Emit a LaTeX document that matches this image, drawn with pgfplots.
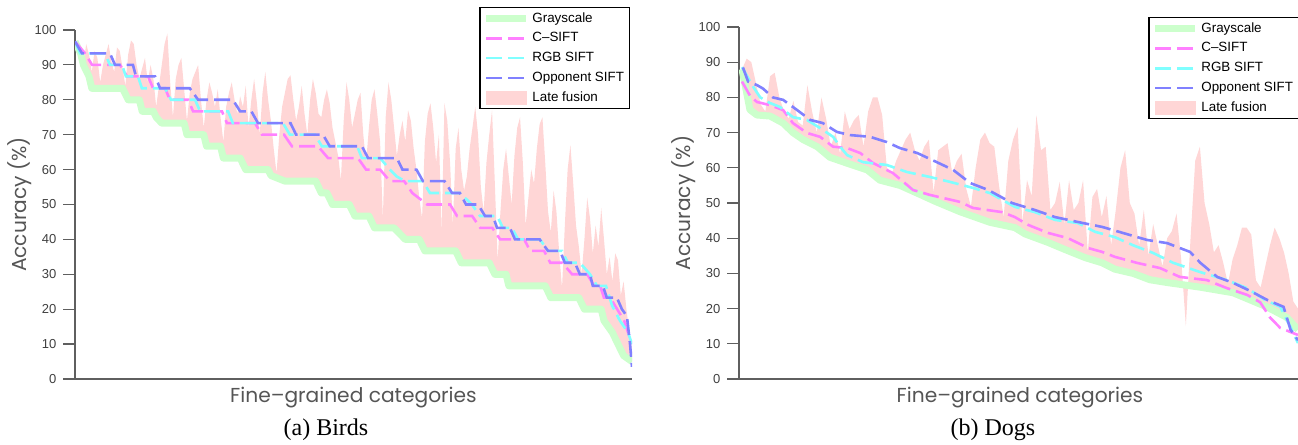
\documentclass[border=0pt]{standalone}
\usepackage{fontspec}
\setmainfont{Liberation Sans}
\newfontfamily\lserif{Liberation Serif}
\newfontfamily\gothic{Poppins}[Ligatures=TeX]
\usepackage{pgfplots}
\pgfplotsset{compat=1.18}
\usepgfplotslibrary{fillbetween}
\definecolor{cgray}{RGB}{204,255,204}
\definecolor{ccsift}{RGB}{255,128,255}
\definecolor{crgb}{RGB}{128,255,255}
\definecolor{copp}{RGB}{128,128,255}
\definecolor{clate}{RGB}{255,214,214}
\definecolor{caxis}{RGB}{95,95,95}
\definecolor{ctext}{RGB}{64,64,64}
\definecolor{clabel}{RGB}{85,85,85}
\pgfplotsset{
  lineleg/.style={legend image code/.code={\draw[##1] (0pt,0pt) -- (20pt,0pt);}},
  arealeg/.style={legend image code/.code={\fill[clate] (0pt,-3.2pt) rectangle (20pt,3.2pt);}},
  dsh/.style={line width=1.3pt, dash pattern=on 8pt off 3pt, lineleg},
  myax/.style={
    scale only axis, set layers,
    axis x line*=bottom, axis y line*=left,
    axis line style={color=caxis, line width=0.75pt},
    ymin=0, ymax=100, ytick={0,10,...,100}, xtick=\empty,
    tick align=outside, major tick length=5.8pt,
    tick style={color=caxis, line width=0.6pt},
    /pgf/number format/assume math mode=true,
    yticklabel style={font=\fontsize{6.5}{7}\selectfont, color=ctext},
    xlabel={Fine–grained categories},
    ylabel={Accuracy (\%)},
    label style={font=\gothic\fontsize{10.1}{12}\selectfont, color=clabel},
    xlabel style={at={(axis description cs:0.5,0)}, anchor=center, yshift=-9.5pt},
    legend cell align=left,
    legend style={anchor=north east, draw=black, line width=0.6pt, fill=white,
      font=\fontsize{6.7}{8}\selectfont, inner xsep=1.5pt, inner ysep=0.8pt, row sep=0.5pt,
      nodes={inner xsep=1.2pt, inner ysep=1.4pt, text height=5pt, text depth=1.6pt}},
  },
}
\begin{document}
\begin{tikzpicture}
% ---------------- Birds ----------------
\begin{axis}[myax, at={(37.5pt,33pt)}, anchor=south west,
  width=278.5pt, height=174.5pt, xmin=1, xmax=200,
  ylabel style={at={(axis description cs:-0.0987,0.5)}, anchor=center},
  legend style={at={(0.9964,1.0659)}}]
\addplot[cgray, line width=3.5pt, line join=round, name path=grayb, lineleg] coordinates {
(1,96.7)(3,93.3)(4,90)(6,86.7)(7,83.3)(18,83.3)(20,80)(24,80)(25,76.7)(29,76.7)(30,75)(32,73.3)(40,73.3)(41,70)(47,70)(48,66.7)(53,66.7)(54,63.3)(60,63.3)(62,60)(70,60)(71,58.3)(76,56.7)(87,56.7)(89,53.3)(91,53.3)(93,50)(99,50)(101,46.7)(106,46.7)(108,43.3)(115,43.3)(119,40)(124,40)(126,36.7)(137,36.7)(139,33.3)(149,33.3)(151,30)(155,30)(156,26.7)(169,26.7)(171,23.3)(181,23.3)(183,20)(189,20)(190,16.7)(193,13.3)(195,10)(197,6.7)(200,5)};
\addlegendentry{Grayscale}
\addplot[ccsift, dsh] coordinates {
(1,96.7)(4.6,93.3)(7.1,90)(17.1,90)(19.6,86.7)(27.1,86.7)(28.9,83.3)(33.2,83.3)(34.9,80)(41.4,80)(43.2,76.7)(53.5,76.7)(55.3,73.3)(65.3,73.3)(67.8,70)(75.7,70)(78.5,66.7)(87.8,66.7)(91.4,63.3)(102.1,63.3)(105,60)(110,60)(113.5,56.7)(118.6,56.7)(121.5,53.3)(126.8,50)(135,50)(137.5,46.7)(142.9,46.7)(145.8,43.3)(150.1,43.3)(152.9,40)(161.5,40)(163.6,36.7)(168.6,36.7)(170.8,33.3)(175.1,33.3)(178.6,30)(184,30)(186.5,26.7)(188.6,26.7)(190,23.3)(192.2,23.3)(194.7,20)(197.2,16.7)(200,10)};
\addlegendentry{C--SIFT}
\addplot[crgb, dsh] coordinates {
(1,96.7)(2.8,93.3)(11.7,93.3)(13.5,90)(17.8,90)(19.2,86.7)(23.5,86.7)(24.9,83.3)(33.2,83.3)(35.3,80)(43.9,80)(45.7,76.7)(55.7,76.7)(57.4,73.3)(75.3,73.3)(77.8,70)(86.7,70)(89.2,66.7)(101.8,66.7)(103.5,63.3)(110,63.3)(113.5,60)(116,58)(118.9,56.7)(125.3,56.7)(127.8,53.3)(138.5,53.3)(142.8,50)(145.7,46.7)(151.8,46.7)(153.9,43.3)(157.1,43.3)(159.3,40)(167.1,40)(170,36.7)(175,36.7)(177.1,33.3)(181.4,33.3)(185,30)(187.5,26.7)(190.7,26.7)(192.9,21)(195.7,16.7)(198.6,13.3)(200,10)};
\addlegendentry{RGB SIFT}
\addplot[copp, dsh] coordinates {
(1,96.7)(3.5,93.3)(13.5,93.3)(15.3,90)(21.7,90)(22.8,86.7)(29.6,86.7)(31.4,83.3)(42,83.3)(45,80)(57.4,80)(60,76.7)(64,76.7)(66.4,73.3)(78,73.3)(80,70)(89.6,70)(92,66.7)(103.5,66.7)(105.7,63.3)(116,63.3)(118,60)(123,60)(125.3,56.7)(133,56.7)(135.7,53.3)(138.5,53.3)(140.7,50)(145,50)(147.5,46.7)(150.3,46.7)(151.8,43.3)(156.4,43.3)(158.2,40)(167,40)(170,36.7)(174.3,36.7)(176,33.3)(179.6,33.3)(181.4,30)(185,30)(186,26.7)(189.6,26.7)(191,23.3)(194.6,23.3)(196.4,20)(198.2,18)(199.3,10)(200,3.5)};
\addlegendentry{Opponent SIFT}
\addplot[draw=none, forget plot, name path=lfb] coordinates {
(1,96)(2,93)(3,95)(4,90)(5,96)(6,93)(7,88)(8,94)(9,92)(10,85)
(11,90)(12,93)(13,96)(14,91)(15,88)(16,95)(17,94)(18,89)(19,84)(20,93)
(21,97)(22,96)(23,90)(24,86)(25,89)(26,92)(27,85)(28,90)(29,86)(30,78)
(31,84)(32,90)(33,96)(34,99)(35,85)(36,75)(37,86)(38,90)(39,92)(40,83)
(41,74)(42,82)(43,86)(44,88)(45,90)(46,80)(47,72)(48,80)(49,85)(50,82)
(51,78)(52,83)(53,75)(54,68)(55,78)(56,82)(57,85)(58,80)(59,76)(60,81)
(61,78)(62,84)(63,72)(64,80)(65,86)(66,79)(67,70)(68,82)(69,88)(70,80)
(71,74)(72,66)(73,59)(74,70)(75,78)(76,82)(77,86)(78,87)(79,80)(80,74)
(81,78)(82,84)(83,76)(84,70)(85,80)(86,86)(87,82)(88,76)(89,75)(90,80)
(91,83)(92,79)(93,72)(94,68)(95,64)(96,57)(97,74)(98,85)(99,80)(100,72)
(101,76)(102,80)(103,82)(104,70)(105,62)(106,72)(107,80)(108,83)(109,76)(110,68)
(111,46)(112,75)(113,85)(114,80)(115,72)(116,64)(117,70)(118,74)(119,68)(120,77)
(121,74)(122,66)(123,60)(124,52)(125,46)(126,68)(127,76)(128,79)(129,72)(130,62)
(131,70)(132,42)(133,79)(134,74)(135,62)(136,44)(137,66)(138,72)(139,60)(140,54)
(141,58)(142,66)(143,72)(144,78)(145,70)(146,55)(147,48)(148,62)(149,70)(150,77)
(151,56)(152,34)(153,48)(154,60)(155,66)(156,58)(157,50)(158,64)(159,72)(160,75)
(161,62)(162,44)(163,52)(164,60)(165,56)(166,66)(167,73)(168,75)(169,62)(170,48)
(171,42)(172,54)(173,48)(174,36)(175,26)(176,44)(177,60)(178,67)(179,56)(180,44)
(181,38)(182,30)(183,40)(184,52)(185,46)(186,36)(187,44)(188,38)(189,49)(190,40)
(191,30)(192,35)(193,28)(194,36)(195,34)(196,24)(197,28)(198,20)(199,14)(200,8)};
\addplot[clate, arealeg] fill between[of=lfb and grayb];
\addlegendentry{Late fusion}
\end{axis}
% ---------------- Dogs ----------------
\begin{axis}[myax, at={(369.5pt,33pt)}, anchor=south west,
  width=281pt, height=176pt, xmin=0.358, xmax=120.64,
  ylabel style={at={(axis description cs:-0.0988,0.5)}, anchor=center},
  legend style={at={(0.9964,1.0284)}}]
\addplot[cgray, line width=3.5pt, line join=round, name path=grayd, lineleg] coordinates {
(1,88)(1.9,82)(2.7,76.5)(4.2,75)(7,74.7)(9.8,72.7)(11.9,70)(14.1,68)(17.1,66)(19.8,63)(23.5,61.3)(27.8,59.4)(30.5,56.5)(34.8,55)(38.5,52.8)(42.3,50.5)(47.7,47.5)(54.1,44.5)(59.4,43)(61.6,41.2)(66.5,38.8)(70.1,36.8)(74.4,34.5)(78.1,33)(80.8,31.2)(84.7,30)(88.3,28.2)(92,27.4)(99,26.1)(106.1,24.5)(109.7,22.5)(113.3,20.5)(117.6,17.5)(120,14)};
\addlegendentry{Grayscale}
\addplot[ccsift, dsh] coordinates {
(1,84.5)(2.7,80.5)(4.2,78.7)(7,77.8)(9.8,76.4)(11.9,72.7)(14.9,69.9)(17.7,68.8)(20.5,66)(23.5,65.6)(26.3,64.2)(29,61.4)(33.3,58.5)(37.6,53.7)(41.2,52.3)(47.7,50.3)(50.4,48.6)(56.7,47.4)(59.4,46)(62.2,43.8)(66.5,41.5)(70.8,40)(75.1,37.2)(78.1,36.1)(80.8,34.7)(85.5,33)(90.5,31.5)(94.7,29)(100.5,28.1)(104.8,25.8)(109.1,23.9)(111.9,21.8)(114,17.5)(116.2,14.5)(120,12.5)};
\addlegendentry{C--SIFT}
\addplot[crgb, dsh] coordinates {
(1,88.6)(3.4,83)(4.9,80)(7,78.4)(9.1,77.3)(11.9,74.4)(14.9,73.6)(17.7,71.3)(20.5,68.8)(22,66)(23.5,63.6)(26.9,61.6)(32,60.8)(36.3,58.8)(41.2,57.4)(45.5,56)(50.4,54.3)(54.1,52.8)(59.4,48.9)(63.7,47.4)(68,45.2)(72.9,44.3)(76.6,41.8)(80.8,40.3)(84.7,38)(89,35.8)(93.3,33)(99,30.4)(104.8,28.1)(109.1,25.8)(112.9,22.5)(116.2,20.5)(118.3,15)(120,10.2)};
\addlegendentry{RGB SIFT}
\addplot[copp, dsh] coordinates {
(1.2,88.5)(2.3,84.5)(4.2,83.5)(5.5,82.5)(7.6,80)(9.8,79.3)(12.8,76.4)(15.6,73.6)(18.3,72.7)(21.3,70.2)(24.1,69.3)(28.4,68.8)(32,67.3)(34.8,65.6)(38.5,64.2)(42.7,61.6)(46.2,59.4)(49.8,55.7)(53.7,53.7)(58.8,50)(63.7,48)(68,46)(72.9,44.6)(78.1,43.2)(82.5,41.5)(87.7,39.5)(92,38.6)(96.9,36.1)(99.1,33)(102.7,29)(106.1,27.3)(109.8,25)(113.5,22.4)(116.9,20.5)(118.4,14)(120,11)};
\addlegendentry{Opponent SIFT}
\addplot[draw=none, forget plot, name path=lfd] coordinates {
(1,88)(2,91)(3,90)(4,84)(5,78)(6,76)(7,86)(8,87)(9,80)(10,76)
(11,74)(12,79)(13,73)(14,72)(15,83.5)(16,76)(17,70)(18,80)(19,74)(20,66)
(21,70)(22,64)(23,76)(24,71)(25,73.6)(26,75)(27,66)(28,76)(29,80)(30,80)
(31,75)(32,60)(33,58)(34,62)(35,65)(36,68)(37,70)(38,65)(39,62)(40,66)
(41,68)(42,53)(43,65)(44,66)(45,67)(46,58.5)(47,62)(48,64)(49,54)(50,49)
(51,60)(52,68)(53,70)(54,67)(55,66)(56,55)(57,46)(58,62)(59,68)(60,71.6)
(61,44.5)(62,56.5)(63,52)(64,75)(65,65)(66,66)(67,48)(68,50)(69,56)(70,44)
(71,56.5)(72,48)(73,50)(74,56.5)(75,36)(76,51.7)(77,54)(78,46)(79,52)(80,38)
(81,48)(82,60)(83,65)(84,50)(85,47)(86,38)(87,48)(88,35)(89,44)(90,38)
(91,32)(92,40)(93,42)(94,47)(95,34)(96,15)(97,40)(98,62)(99,66)(100,50)
(101,44)(102,36)(103,38)(104,33)(105,27)(106,34)(107,38)(108,43)(109,43)(110,41)
(111,28)(112,26)(113,32)(114,38)(115,43)(116,40)(117,36)(118,30)(119,22)(120,20)};
\addplot[clate, arealeg] fill between[of=lfd and grayd];
\addlegendentry{Late fusion}
\end{axis}
\node[font=\lserif\fontsize{12}{14}\selectfont, anchor=center] at (163pt,7.5pt) {(a) Birds};
\node[font=\lserif\fontsize{12}{14}\selectfont, anchor=center] at (496.5pt,7.5pt) {(b) Dogs};
\pgfresetboundingbox
\path (0pt,0pt) rectangle (649pt,222.5pt);
\end{tikzpicture}
\end{document}
